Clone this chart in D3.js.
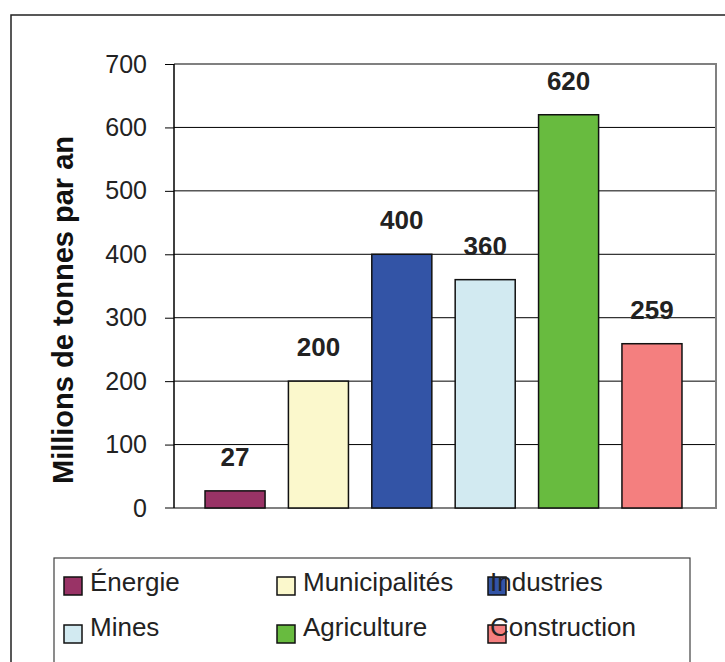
<!DOCTYPE html>
<html>
<head>
<meta charset="utf-8">
<script src="https://cdn.jsdelivr.net/npm/d3@7"></script>
<style>
  html, body { margin: 0; padding: 0; background: #fff; }
  svg { display: block; font-family: "Liberation Sans", Arial, sans-serif; }
</style>
</head>
<body>
<svg id="chart" width="725" height="662"></svg>
<script>
const categories = ["Énergie", "Municipalités", "Industries", "Mines", "Agriculture", "Construction"];
const values = [27, 200, 400, 360, 620, 259];
const colors = ["#993366", "#FBF8CC", "#3354A6", "#D2EAF1", "#68BB3F", "#F47F7F"];
const yTicks = [0, 100, 200, 300, 400, 500, 600, 700];
const yTitle = "Millions de tonnes par an";

(function () {
const svg = d3.select("#chart");
const pL = 174, pR = 716, pT = 64, pB = 508;

// outer frame
svg.append("rect").attr("x", 11).attr("y", 15).attr("width", 900).attr("height", 900)
  .attr("fill", "none").attr("stroke", "#222").attr("stroke-width", 1.5);

const y = d3.scaleLinear().domain([0, 700]).range([pB, pT]);
const x = d3.scaleBand().domain(categories).range([pL, pR])
  .paddingInner(0.28).paddingOuter(0.39).align(0.477);

// gridlines
svg.append("g").selectAll("line").data(yTicks.filter(d => d > 0 && d < 700)).join("line")
  .attr("x1", pL).attr("x2", pR).attr("y1", d => y(d)).attr("y2", d => y(d))
  .attr("stroke", "#000").attr("stroke-width", 1);

// plot border top/right/bottom in gray
svg.append("path")
  .attr("d", `M${pL},${y(700)}H${pR}V${y(0)}H${pL - 9}`)
  .attr("fill", "none").attr("stroke", "#808080").attr("stroke-width", 2);

// y axis
const yAxis = d3.axisLeft(y).tickValues(yTicks).tickSize(9).tickPadding(18).tickFormat(d3.format("d"));
const ga = svg.append("g").attr("transform", `translate(${pL},0)`).call(yAxis);
ga.select(".domain").attr("stroke", "#000").attr("stroke-width", 1.5).attr("d", `M0,${y(700)}V${y(0)}`);
ga.selectAll(".tick line").attr("stroke", "#000").attr("stroke-width", 1);
ga.selectAll(".tick").filter(d => d === 0).select("line").attr("stroke", "#808080");
ga.selectAll(".tick text").attr("font-size", 25).attr("fill", "#222")
  .attr("font-family", "'Liberation Sans', Arial, sans-serif");

// y title
svg.append("text").attr("transform", `translate(73,${(135 + 485) / 2}) rotate(-90)`)
  .attr("text-anchor", "middle").attr("font-size", 29).attr("font-weight", "bold").attr("fill", "#111")
  .text(yTitle);

// bars
svg.append("g").selectAll("rect").data(values).join("rect")
  .attr("x", (d, i) => x(categories[i])).attr("width", x.bandwidth())
  .attr("y", d => y(d)).attr("height", d => y(0) - y(d))
  .attr("fill", (d, i) => colors[i]).attr("stroke", "#111").attr("stroke-width", 1.5);

// value labels
svg.append("g").selectAll("text").data(values).join("text")
  .attr("x", (d, i) => x(categories[i]) + x.bandwidth() / 2)
  .attr("y", d => y(d) - 25)
  .attr("text-anchor", "middle").attr("font-size", 26).attr("font-weight", "bold").attr("fill", "#222")
  .text(d => d);

// legend
svg.append("rect").attr("x", 54).attr("y", 558).attr("width", 636).attr("height", 200)
  .attr("fill", "#fff").attr("stroke", "#404040").attr("stroke-width", 1.2);
const colSw = [64, 277, 488];
const colTx = [90, 303, 490];
const rowSw = [577, 625];
const rowTx = [591, 636];
const lg = svg.append("g").selectAll("g").data(categories).join("g");
lg.append("rect")
  .attr("x", (d, i) => colSw[i % 3]).attr("y", (d, i) => rowSw[Math.floor(i / 3)])
  .attr("width", 18).attr("height", 18)
  .attr("fill", (d, i) => colors[i]).attr("stroke", "#111").attr("stroke-width", 1.5);
lg.append("text")
  .attr("x", (d, i) => colTx[i % 3]).attr("y", (d, i) => rowTx[Math.floor(i / 3)])
  .attr("font-size", 26).attr("fill", "#222").text(d => d);
})();
</script>
</body>
</html>
